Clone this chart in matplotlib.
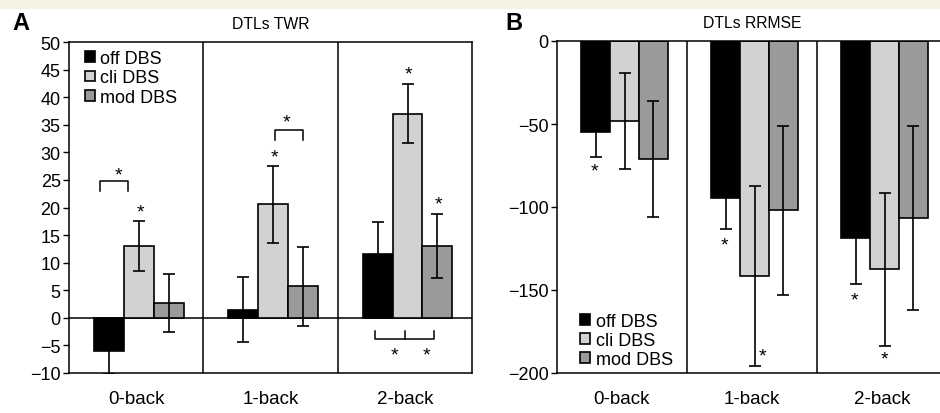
import matplotlib
matplotlib.use("Agg")
import matplotlib.pyplot as plt
import matplotlib.transforms as mtransforms
import numpy as np
from matplotlib.patches import Rectangle

plt.rcParams['font.family'] = ['Liberation Sans', 'DejaVu Sans']

categories = ["0-back", "1-back", "2-back"]
series = ["off DBS", "cli DBS", "mod DBS"]
colors = ["#000000", "#d2d2d2", "#9a9a9a"]

# Panel A: DTLs TWR
twr_vals = {
    "off DBS": [-6.1, 1.5, 11.5],
    "cli DBS": [13.0, 20.6, 37.0],
    "mod DBS": [2.7, 5.7, 13.0],
}
twr_err = {
    "off DBS": [4.1, 5.9, 5.8],
    "cli DBS": [4.5, 7.0, 5.3],
    "mod DBS": [5.3, 7.2, 5.8],
}
# Panel B: DTLs RRMSE
rrmse_vals = {
    "off DBS": [-55.0, -94.5, -118.5],
    "cli DBS": [-48.0, -141.5, -137.5],
    "mod DBS": [-71.0, -102.0, -106.5],
}
rrmse_err = {
    "off DBS": [15.0, 18.5, 28.0],
    "cli DBS": [29.0, 54.0, 46.0],
    "mod DBS": [35.0, 51.0, 55.5],
}

# significance marks (x in group units, y in data units)
a_star_x = [-0.13, 0.03, 1.03, 1.12, 2.03, 2.25, 1.92, 2.16]
a_star_y = [26.3, 19.6, 29.6, 35.9, 44.6, 21.0, -6.4, -6.4]
a_brackets = [
    ([-0.27, -0.27, -0.06, -0.06], [23.0, 24.8, 24.8, 23.0]),
    ([1.03, 1.03, 1.24, 1.24], [32.2, 34.1, 34.1, 32.2]),
    ([1.78, 1.78, 2.22, 2.22], [-2.4, -3.8, -3.8, -2.4]),
    ([2.0, 2.0], [-3.8, -2.4]),
]
b_star_x = [-0.21, 0.79, 1.08, 1.79, 2.02]
b_star_y = [-77.0, -121.5, -188.5, -154.5, -190.5]

fig = plt.figure(figsize=(9.4, 4.14), dpi=100)
fig.patches.append(Rectangle((0, 1 - 10 / 414), 1, 10 / 414, transform=fig.transFigure,
                             facecolor="#f5f1e3", edgecolor="none", zorder=0))

width = 0.222
offsets = [-width, 0.0, width]
x = np.arange(len(categories))


def draw_panel(ax, vals, errs):
    for i, s in enumerate(series):
        ax.bar(x + offsets[i] + 0.02, vals[s], width, color=colors[i], edgecolor="black",
               linewidth=1.2, label=s, zorder=2)
    for i, s in enumerate(series):
        ax.errorbar(x + offsets[i] + 0.02, vals[s], yerr=errs[s], fmt="none", ecolor="black",
                    elinewidth=1.2, capsize=4.5, capthick=1.2, zorder=3)
    for d in [0.5, 1.5]:
        ax.axvline(d, color="black", linewidth=1.1, zorder=1)
    ax.set_xlim(-0.5, 2.5)
    ax.set_xticks(x)
    ax.set_xticklabels(categories, fontsize=13.5)
    ax.tick_params(axis="x", length=0, pad=12)
    ax.tick_params(axis="y", direction="out", length=4, width=1, labelsize=13, pad=2)
    for sp in ax.spines.values():
        sp.set_linewidth(1.1)


def stars(ax, xs, ys):
    tr = mtransforms.offset_copy(ax.transData, fig=fig, x=0, y=-1.5, units="points")
    for sx, sy in zip(xs, ys):
        ax.text(sx, sy, "*", ha="center", va="center", fontsize=14, zorder=4, transform=tr)


leg_kw = dict(frameon=False, fontsize=13, handlelength=0.55, handleheight=0.55,
              handletextpad=0.3, labelspacing=0.12, borderpad=0, borderaxespad=0)

axA = fig.add_axes([69 / 940, 40 / 414, 403 / 940, 331 / 414])
draw_panel(axA, twr_vals, twr_err)
axA.set_ylim(-10, 50)
axA.set_yticks(np.arange(-10, 51, 5))
axA.axhline(0, color="black", linewidth=1.1, zorder=1)
for bx, by in a_brackets:
    axA.plot(bx, by, color="black", linewidth=1.1, zorder=3)
stars(axA, a_star_x, a_star_y)
axA.legend(loc="upper left", bbox_to_anchor=(0.04, 0.975), **leg_kw)
axA.set_title("DTLs TWR", fontsize=11.3, pad=10)

axB = fig.add_axes([557 / 940, 40 / 414, 390 / 940, 332 / 414])
draw_panel(axB, rrmse_vals, rrmse_err)
axB.set_ylim(-200, 0)
axB.set_yticks(np.arange(-200, 1, 50))
stars(axB, b_star_x, b_star_y)
axB.legend(loc="lower left", bbox_to_anchor=(0.06, 0.015), **leg_kw)
axB.set_title("DTLs RRMSE", fontsize=11.3, pad=10)

fig.text(12 / 940, 1 - 12 / 414, "A", fontsize=17, fontweight="bold", ha="left", va="top")
fig.text(505 / 940, 1 - 12 / 414, "B", fontsize=17, fontweight="bold", ha="left", va="top")

fig.savefig("out.png", dpi=100)
